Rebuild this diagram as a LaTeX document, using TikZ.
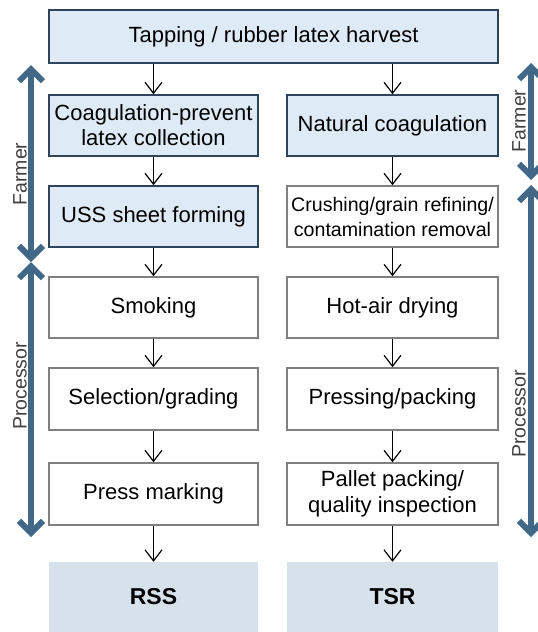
\documentclass[tikz,border=0pt]{standalone}
\usepackage{fontspec}
\setmainfont{Liberation Sans}
\usetikzlibrary{arrows.meta, positioning}
\definecolor{farmfill}{RGB}{222,235,246}
\definecolor{farmline}{RGB}{47,68,90}
\definecolor{procline}{RGB}{127,127,127}
\definecolor{roleblue}{RGB}{66,104,136}
\definecolor{prodfill}{RGB}{214,225,236}
\definecolor{labelgray}{RGB}{64,64,64}

\tikzset{
  farmbox/.style={rectangle,draw=farmline,fill=farmfill,line width=1.5pt,minimum width=209pt,minimum height=61pt,align=center,font=\fontsize{22}{25}\selectfont},
  procbox/.style={rectangle,draw=procline,fill=white,line width=1.5pt,minimum width=209pt,minimum height=61pt,align=center,font=\fontsize{22}{25}\selectfont},
  prodbox/.style={rectangle,fill=prodfill,minimum width=209pt,minimum height=70pt,font=\fontsize{23}{26}\selectfont\bfseries},
  flow/.style={-{Straight Barb[length=11pt,width=17pt]},line width=1.2pt},
  role/.style={draw=roleblue,line width=6pt,{Straight Barb[length=12pt,width=24pt]}-{Straight Barb[length=12pt,width=24pt]}},
  rolelabel/.style={rotate=90,text=labelgray,font=\fontsize{19.5}{22}\selectfont}
}

\begin{document}
\begin{tikzpicture}[x=1pt,y=-1pt]
    \useasboundingbox[fill=white] (0,0) rectangle (538,632);

    % Raccolta
    \node[farmbox,minimum width=449pt,minimum height=53pt] (tap) at (273.5,36.5) {Tapping / rubber latex harvest};

    % Colonna RSS
    \node[farmbox] (coag) at (153.5,125.5) {Coagulation-prevent\\latex collection};
    \node[farmbox] (uss) at (153.5,216.5) {USS sheet forming};
    \node[procbox] (smoke) at (153.5,307.5) {Smoking};
    \node[procbox,minimum height=62pt] (grade) at (153.5,399) {Selection/grading};
    \node[procbox,minimum height=62pt] (mark) at (153.5,494) {Press marking};
    \node[prodbox] (rss) at (153.5,597) {RSS};

    % Colonna TSR
    \node[farmbox,minimum width=211pt] (natcoag) at (392.5,125.5) {Natural coagulation};
    \node[procbox,minimum width=211pt,font=\fontsize{19.6}{25}\selectfont] (crush) at (392.5,216.5) {Crushing/grain refining/\\contamination removal};
    \node[procbox,minimum width=211pt] (dry) at (392.5,307.5) {Hot-air drying};
    \node[procbox,minimum width=211pt,minimum height=62pt] (pack) at (392.5,399) {Pressing/packing};
    \node[procbox,minimum width=211pt,minimum height=62pt,font=\fontsize{22}{26}\selectfont] (pallet) at (392.5,494) {Pallet packing/\\quality inspection};
    \node[prodbox,minimum width=211pt] (tsr) at (392.5,597) {TSR};

    % Frecce
    \draw[flow] (tap.south -| coag.north) -- (coag.north);
    \draw[flow] (tap.south -| natcoag.north) -- (natcoag.north);
    \draw[flow] (coag) -- (uss);
    \draw[flow] (uss) -- (smoke);
    \draw[flow] (smoke) -- (grade);
    \draw[flow] (grade) -- (mark);
    \draw[flow] (mark) -- (rss);
    \draw[flow] (natcoag) -- (crush);
    \draw[flow] (crush) -- (dry);
    \draw[flow] (dry) -- (pack);
    \draw[flow] (pack) -- (pallet);
    \draw[flow] (pallet) -- (tsr);

    % Ruoli
    \coordinate (lfarmtop) at (31,65);
    \coordinate (lsplit) at (31,262);
    \coordinate (lprocbot) at (31,537);
    \coordinate (rfarmtop) at (531,63);
    \coordinate (rfarmbot) at (531,180);
    \coordinate (rproctop) at (531,185);
    \coordinate (rprocbot) at (531,537);
    \draw[role] (lfarmtop) -- (lsplit);
    \draw[role] (lsplit) -- (lprocbot);
    \draw[role] (rfarmtop) -- (rfarmbot);
    \draw[role] (rproctop) -- (rprocbot);
    \node[rolelabel] (lfarmer) at (20,174) {Farmer};
    \node[rolelabel] (lproc) at (20,386) {Processor};
    \node[rolelabel] (rfarmer) at (519,121) {Farmer};
    \node[rolelabel] (rproc) at (519,414) {Processor};
\end{tikzpicture}
\end{document}
